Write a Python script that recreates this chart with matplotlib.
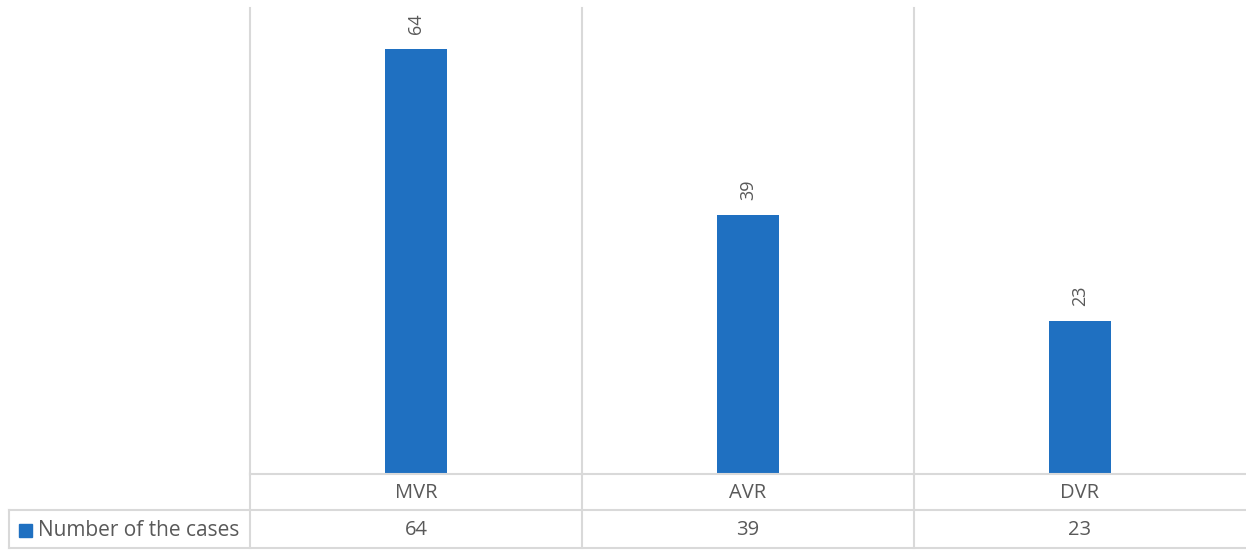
import matplotlib
matplotlib.use("Agg")
import matplotlib.pyplot as plt
from matplotlib.lines import Line2D
from matplotlib.patches import Rectangle

# ── Datos ─────────────────────────────────────────────────────────────────────
categories = ["MVR", "AVR", "DVR"]
cases = [64, 39, 23]
series_name = "Number of the cases"

# ── Estilo ────────────────────────────────────────────────────────────────────
BAR_COLOR = "#1F70C1"
GRID_COLOR = "#D9D9D9"
TEXT_COLOR = "#595959"
plt.rcParams["font.family"] = ["Open Sans", "DejaVu Sans"]

W, H = 1246, 550
fig = plt.figure(figsize=(W / 100, H / 100), dpi=100)
fig.patch.set_facecolor("white")


def fx(px):
    return px / W


def fy(py):
    return 1 - py / H


# Área del gráfico (pixeles de la referencia)
left, right, top, bottom = 250, 1246, 8, 474
ax = fig.add_axes([fx(left), fy(bottom), fx(right - left), fy(top) - fy(bottom)])
x = range(len(categories))
bars = ax.bar(x, cases, width=0.185, color=BAR_COLOR, zorder=3)
ax.set_xlim(-0.5, len(categories) - 0.5)
ax.set_ylim(0, 70.2)

for b, v in zip(bars, cases):
    ax.annotate(str(v), (b.get_x() + b.get_width() / 2, v),
                xytext=(0, 11), textcoords="offset points",
                rotation=90, ha="center", va="bottom",
                fontsize=13, color=TEXT_COLOR)

# Líneas de separación entre categorías
for k in range(len(categories)):
    ax.axvline(k - 0.5, color=GRID_COLOR, linewidth=1.5, zorder=1, clip_on=False)
ax.set_xticks([])
ax.set_yticks([])
for s in ax.spines.values():
    s.set_visible(False)

# ── Tabla de datos ────────────────────────────────────────────────────────────
row1, row2, row3 = 474, 510, 548
table_left = 9
col_edges = [250, 582, 914, 1246]


def hline(py, x0, x1):
    fig.add_artist(Line2D([fx(x0), fx(x1)], [fy(py), fy(py)],
                          color=GRID_COLOR, linewidth=1.5))


def vline(px, y0, y1):
    fig.add_artist(Line2D([fx(px), fx(px)], [fy(y0), fy(y1)],
                          color=GRID_COLOR, linewidth=1.5))


hline(row1, col_edges[0], col_edges[-1])
hline(row2, table_left, col_edges[-1])
hline(row3, table_left, col_edges[-1])
vline(table_left, row2, row3)
for px in col_edges[:-1]:
    vline(px, row1, row3)

for i, (cat, v) in enumerate(zip(categories, cases)):
    cx = fx((col_edges[i] + col_edges[i + 1]) / 2)
    fig.text(cx, fy((row1 + row2) / 2 + 1), cat, ha="center", va="center",
             fontsize=14.5, color=TEXT_COLOR)
    fig.text(cx, fy((row2 + row3) / 2 + 1), str(v), ha="center", va="center",
             fontsize=14.5, color=TEXT_COLOR)

# Leyenda en la tabla
fig.add_artist(Rectangle((fx(19), fy(537)), fx(13), fy(524) - fy(537),
                         color=BAR_COLOR, transform=fig.transFigure))
fig.text(fx(38), fy((row2 + row3) / 2 + 1), series_name, ha="left", va="center",
         fontsize=15, color=TEXT_COLOR)

fig.savefig("out.png", dpi=100, facecolor="white")
